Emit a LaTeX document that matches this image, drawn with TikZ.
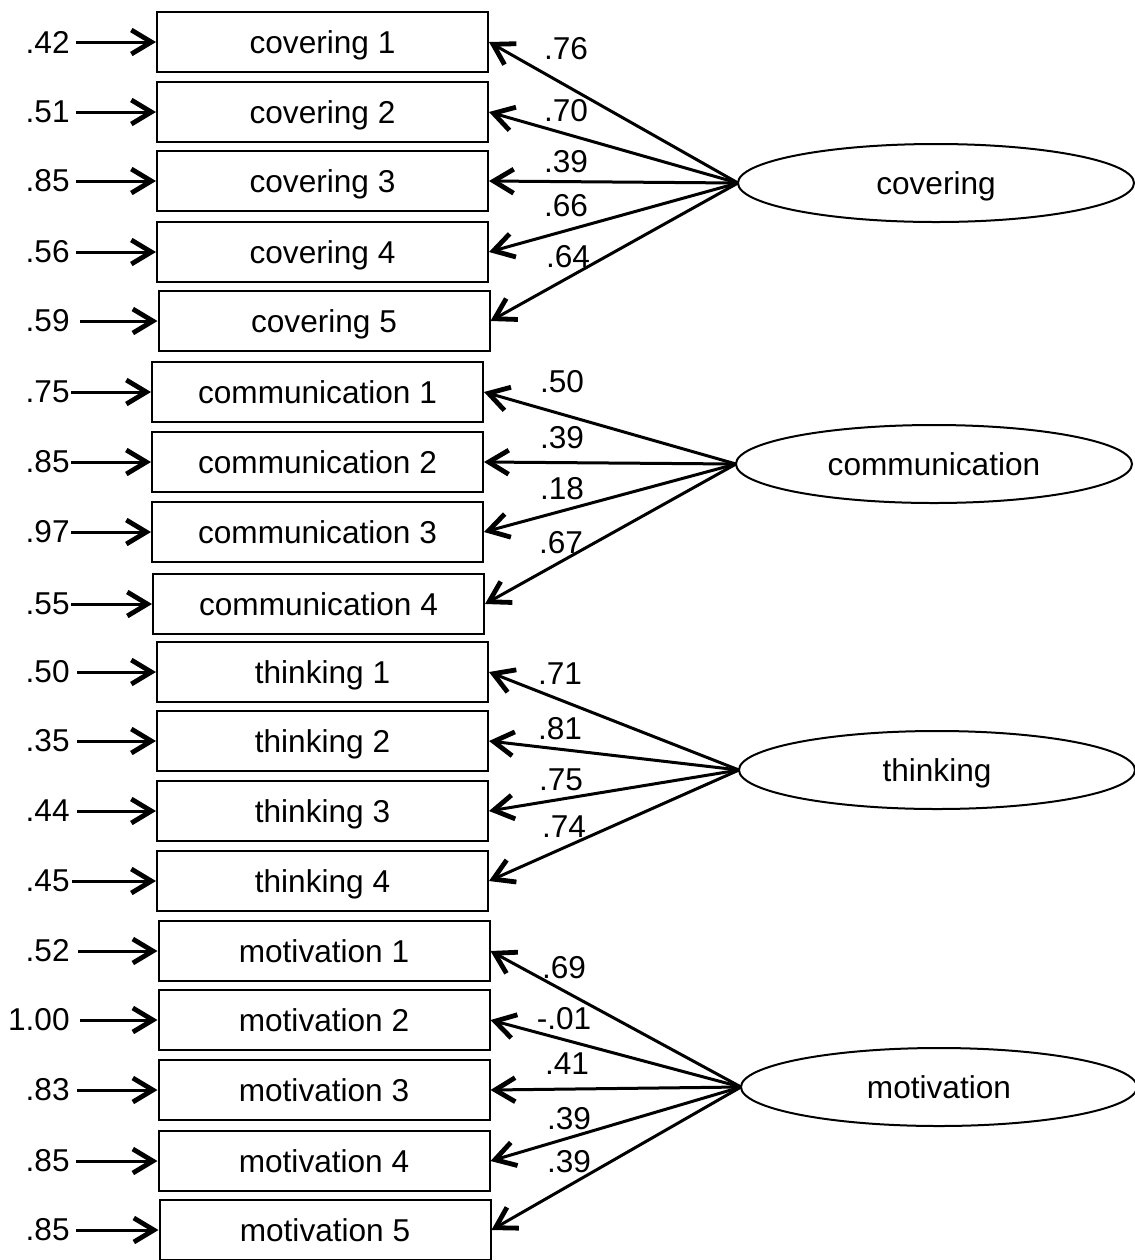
\documentclass[tikz,border=0pt]{standalone}
\usepackage{fontspec}
\setmainfont{Liberation Sans}
\usetikzlibrary{arrows.meta,shapes.geometric}

\tikzset{
  indicator/.style={draw, line width=1pt, minimum width=165.5pt, minimum height=30pt, inner sep=0pt, text depth=0pt},
  factor/.style={draw, ellipse, line width=1pt, minimum width=198pt, minimum height=39pt, inner sep=0pt, outer sep=0pt, text depth=0pt},
  errlabel/.style={anchor=east, inner sep=0pt},
  loadlabel/.style={inner sep=0pt},
  pathline/.style={line width=1.5pt, -{Straight Barb[length=10pt,width=12pt,line width=2.4pt]}}
}

\begin{document}
\begin{tikzpicture}[x=0.5pt, y=0.5pt, font=\fontsize{15.8}{19}\selectfont]
    \useasboundingbox (0,0) rectangle (1135,-1260);

    % latent factors
    \node[factor] (Fcov) at (936,-183) {covering};
    \node[factor] (Fcom) at (934,-464) {communication};
    \node[factor] (Fthi) at (937,-770) {thinking};
    \node[factor] (Fmot) at (939,-1087) {motivation};

    % observed items
    \node[indicator] (cov1) at (322.5,-42) {covering 1};
    \node[indicator] (cov2) at (322.5,-112) {covering 2};
    \node[indicator] (cov3) at (322.5,-181) {covering 3};
    \node[indicator] (cov4) at (322.5,-252) {covering 4};
    \node[indicator] (cov5) at (324,-321) {covering 5};
    \node[indicator] (com1) at (317.5,-392) {communication 1};
    \node[indicator] (com2) at (317.5,-462) {communication 2};
    \node[indicator] (com3) at (317.5,-532) {communication 3};
    \node[indicator] (com4) at (318.5,-604) {communication 4};
    \node[indicator] (thi1) at (322.5,-672) {thinking 1};
    \node[indicator] (thi2) at (322.5,-741) {thinking 2};
    \node[indicator] (thi3) at (322.5,-811) {thinking 3};
    \node[indicator] (thi4) at (322.5,-881) {thinking 4};
    \node[indicator] (mot1) at (324,-951) {motivation 1};
    \node[indicator] (mot2) at (324,-1020) {motivation 2};
    \node[indicator] (mot3) at (324,-1090) {motivation 3};
    \node[indicator] (mot4) at (324,-1161) {motivation 4};
    \node[indicator] (mot5) at (325,-1230) {motivation 5};

    % error terms
    \foreach \item/\val/\gap in {cov1/.42/6, cov2/.51/6, cov3/.85/6, cov4/.56/6, cov5/.59/10,
                                 com1/.75/1, com2/.85/1, com3/.97/1, com4/.55/1,
                                 thi1/.50/7, thi2/.35/7, thi3/.44/7, thi4/.45/2,
                                 mot1/.52/8, mot2/1.00/10, mot3/.83/7, mot4/.85/6, mot5/.85/6}{
        \node[errlabel] (e\item) at (70,0 |- \item.center) {\val};
        \draw[pathline, shorten <=\gap*0.5pt] (e\item.east) -- (e\item.east -| \item.west);
    }

    % loadings
    \foreach \f/\item in {Fcov/cov1, Fcov/cov2, Fcov/cov3, Fcov/cov4, Fcov/cov5,
                          Fcom/com1, Fcom/com2, Fcom/com3, Fcom/com4,
                          Fthi/thi1, Fthi/thi2, Fthi/thi3, Fthi/thi4,
                          Fmot/mot1, Fmot/mot2, Fmot/mot3, Fmot/mot4, Fmot/mot5}{
        \draw[pathline] (\f.west) -- (\item.east);
    }

    \node[loadlabel] (lcov1) at (566,-49) {.76};
    \node[loadlabel] (lcov2) at (566,-111) {.70};
    \node[loadlabel] (lcov3) at (566,-162) {.39};
    \node[loadlabel] (lcov4) at (566,-206) {.66};
    \node[loadlabel] (lcov5) at (568,-257) {.64};
    \node[loadlabel] (lcom1) at (562,-382) {.50};
    \node[loadlabel] (lcom2) at (562,-438) {.39};
    \node[loadlabel] (lcom3) at (562,-489) {.18};
    \node[loadlabel] (lcom4) at (561,-543) {.67};
    \node[loadlabel] (lthi1) at (560,-674) {.71};
    \node[loadlabel] (lthi2) at (560,-729) {.81};
    \node[loadlabel] (lthi3) at (561,-780) {.75};
    \node[loadlabel] (lthi4) at (564,-827) {.74};
    \node[loadlabel] (lmot1) at (564,-968) {.69};
    \node[loadlabel] (lmot2) at (564,-1019) {-.01};
    \node[loadlabel] (lmot3) at (567,-1064) {.41};
    \node[loadlabel] (lmot4) at (569,-1119) {.39};
    \node[loadlabel] (lmot5) at (569,-1162) {.39};
\end{tikzpicture}
\end{document}
